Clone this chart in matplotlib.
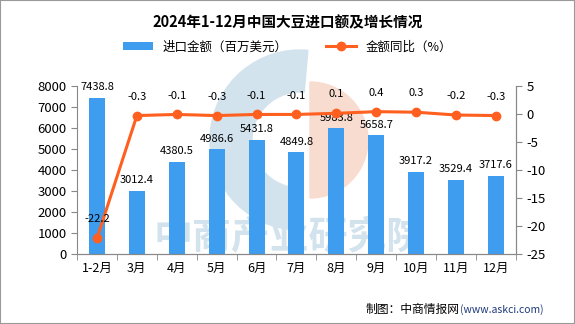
import numpy as np
import matplotlib.pyplot as plt
from matplotlib.patches import Wedge

plt.rcParams['font.family'] = ['Noto Sans CJK SC', 'DejaVu Sans']
plt.rcParams['axes.unicode_minus'] = False

# data
months = ['1-2月', '3月', '4月', '5月', '6月', '7月', '8月', '9月', '10月', '11月', '12月']
import_value = [7438.8, 3012.4, 4380.5, 4986.6, 5431.8, 4849.8, 5983.8, 5658.7, 3917.2, 3529.4, 3717.6]
yoy = [-22.2, -0.3, -0.1, -0.3, -0.1, -0.1, 0.1, 0.4, 0.3, -0.2, -0.3]

bar_color = '#3F9DF0'
line_color = '#FF5F1F'
axis_color = '#888888'

fig = plt.figure(figsize=(5.75, 3.24), dpi=100)

# background watermark (logo + text), drawn behind the chart
bg = fig.add_axes([0, 0, 1, 1], zorder=-1)
bg.set_xlim(0, 575)
bg.set_ylim(324, 0)
bg.axis('off')
bg.add_patch(Wedge((300, 140), 90, 95, 275, width=42, color='#D3E3EE'))
bg.add_patch(Wedge((310, 140), 58, -90, 90, color='#F8DCCF'))
bg.text(290, 238, '中商产业研究院', fontsize=28, color='#D3E3EE',
        ha='center', va='center', fontweight='bold')

ax = fig.add_axes([0.134, 0.216, 0.763, 0.519])
x = np.arange(len(months))

ax.bar(x, import_value, width=0.4, color=bar_color, zorder=2, label='进口金额（百万美元）')
ax.set_xlim(-0.5, len(months) - 0.5)
ax.set_ylim(0, 8000)
ax.set_yticks(range(0, 8001, 1000))
ax.set_xticks(x)
ax.set_xticklabels(months, fontsize=9)
ax.set_xticks(np.arange(-0.5, len(months), 1), minor=True)
ax.tick_params(axis='x', which='major', length=0, pad=6)
ax.tick_params(axis='x', which='minor', length=4, color=axis_color)
ax.tick_params(axis='y', labelsize=9.5, length=4, color=axis_color)

for xi, v in zip(x, import_value):
    ax.annotate(f'{v:.1f}', (xi, v), xytext=(0, 4), textcoords='offset points',
                ha='center', va='bottom', fontsize=8, zorder=5)

ax2 = ax.twinx()
ax2.plot(x, yoy, color=line_color, lw=2.2, marker='o', markersize=6, zorder=3,
         label='金额同比（%）')
ax2.set_ylim(-25, 5)
ax2.set_yticks(range(-25, 6, 5))
ax2.tick_params(axis='y', labelsize=9.5, length=4, color=axis_color)

for xi, v in zip(x, yoy):
    ax2.annotate(f'{v:.1f}', (xi, v), xytext=(0, 10), textcoords='offset points',
                 ha='center', va='bottom', fontsize=8, zorder=5)

for a in (ax, ax2):
    a.spines['top'].set_visible(False)
    for s in ('left', 'right', 'bottom'):
        a.spines[s].set_color(axis_color)
    a.patch.set_visible(False)
ax2.spines['left'].set_visible(False)

fig.text(0.5, 0.93, '2024年1-12月中国大豆进口额及增长情况', ha='center', va='center',
         fontsize=10.5, fontweight='bold')

h1, l1 = ax.get_legend_handles_labels()
h2, l2 = ax2.get_legend_handles_labels()
fig.legend(h1 + h2, l1 + l2, loc='center', bbox_to_anchor=(0.5, 0.855), ncol=2,
           frameon=False, fontsize=9, handlelength=2.4, columnspacing=3)

fig.text(0.8, 0.045, '制图：中商情报网', ha='right', va='center', fontsize=8.5)
fig.text(0.8, 0.045, '(www.askci.com)', ha='left', va='center', fontsize=7.5, color='#1F3A7A')

fig.patches.append(plt.Rectangle((0, 0), 1, 1, transform=fig.transFigure, fill=False,
                                 edgecolor='#999999', lw=1.5))

fig.savefig('out.png', dpi=100)
